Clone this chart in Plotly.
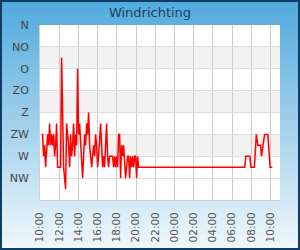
import plotly.graph_objects as go
import pandas as pd

# ---- data ----
title_text = "Windrichting"
dir_labels = ["N", "NO", "O", "ZO", "Z", "ZW", "W", "NW"]
dir_degrees = [0, 45, 90, 135, 180, 225, 270, 315]

noisy_start = "2024-01-01 10:10"
noisy_values = [
    225, 225, 270, 247.5, 292.5, 247.5, 225, 247.5, 202.5, 247.5,
    225, 247.5, 225, 270, 247.5, 202.5, 292.5, 292.5, 292.5, 292.5, 67.5,
    247.5, 292.5, 315, 337.5, 202.5, 225, 247.5, 292.5, 225, 270,
    247.5, 202.5, 270, 225, 247.5, 90, 225, 202.5, 247.5, 292.5,
    315, 270, 225, 247.5, 202.5, 225, 180, 247.5, 270, 292.5,
    270, 247.5, 270, 225, 247.5, 292.5, 270, 225, 202.5, 247.5,
    292.5, 270, 292.5, 247.5, 202.5, 270, 292.5, 270, 270, 270,
    270, 292.5, 270, 292.5, 270, 292.5, 225, 225, 315, 247.5,
    270, 247.5, 292.5, 315, 292.5, 270, 270, 315, 270, 292.5,
    270, 292.5, 270, 270, 315, 270, 292.5, 292.5,
]
tail_times = [
    "2024-01-02 07:20", "2024-01-02 07:26", "2024-01-02 07:52", "2024-01-02 07:58",
    "2024-01-02 08:20", "2024-01-02 08:32", "2024-01-02 08:42", "2024-01-02 08:58",
    "2024-01-02 09:05", "2024-01-02 09:14", "2024-01-02 09:24", "2024-01-02 09:44",
    "2024-01-02 09:50", "2024-01-02 09:58", "2024-01-02 10:12",
]
tail_values = [292.5, 270, 270, 292.5, 292.5, 225, 247.5, 247.5, 270, 247.5,
               225, 225, 247.5, 292.5, 292.5]
shaded_bands = [(45, 90), (135, 180), (225, 270)]

# ---- build series ----
noisy_times = pd.date_range(start=noisy_start, periods=len(noisy_values), freq="375s")
times = list(noisy_times) + list(pd.to_datetime(tail_times))
values = list(noisy_values) + list(tail_values)

W, H = 300, 250
L, R, T, B = 40, 20, 25, 50
pw, ph = W - L - R, H - T - B

def px_to_paper_x(px):
    return (px - L) / pw

def py_to_paper_y(py):
    return (H - B - py) / ph

shapes = []
# gradient background strips
n = 50
c0 = (82, 170, 220)
c1 = (240, 247, 252)
for i in range(n):
    f = i / (n - 1)
    c = tuple(int(round(c0[k] + (c1[k] - c0[k]) * f)) for k in range(3))
    y_top = i * H / n
    y_bot = (i + 1) * H / n + 0.6
    shapes.append(dict(type="rect", xref="paper", yref="paper", layer="below",
                       x0=px_to_paper_x(0), x1=px_to_paper_x(W),
                       y0=py_to_paper_y(y_bot), y1=py_to_paper_y(y_top),
                       fillcolor="rgb(%d,%d,%d)" % c, line=dict(width=0)))
# white plot area
shapes.append(dict(type="rect", xref="paper", yref="paper", layer="below",
                   x0=0, x1=1, y0=0, y1=1, fillcolor="white", line=dict(width=0)))
# alternate bands
for a, b in shaded_bands:
    shapes.append(dict(type="rect", xref="paper", yref="y", layer="below",
                       x0=0, x1=1, y0=a, y1=b, fillcolor="#f2f2f2", line=dict(width=0)))
# outer border
shapes.append(dict(type="rect", xref="paper", yref="paper", layer="above",
                   x0=px_to_paper_x(1), x1=px_to_paper_x(W - 1),
                   y0=py_to_paper_y(H - 1), y1=py_to_paper_y(1),
                   line=dict(color="#0e3d68", width=2), fillcolor="rgba(0,0,0,0)"))

fig = go.Figure()
fig.add_trace(go.Scatter(x=times, y=values, mode="lines",
                         line=dict(color="#ff0000", width=1.5), hoverinfo="skip"))

fig.update_layout(
    width=W, height=H,
    margin=dict(l=L, r=R, t=T, b=B, autoexpand=False),
    paper_bgcolor="#9fd0ec",
    plot_bgcolor="white",
    showlegend=False,
    shapes=shapes,
    font=dict(family="DejaVu Sans", size=11, color="#555555"),
    title=dict(text=title_text, x=0.5, xanchor="center", y=1 - 12 / H, yanchor="middle",
               yref="container", font=dict(family="DejaVu Sans", size=13, color="#1d3f63")),
    xaxis=dict(
        type="date",
        range=["2024-01-01 10:00", "2024-01-02 11:00"],
        dtick=2 * 3600 * 1000, tick0="2024-01-01 10:00",
        tickformat="%H:%M", tickangle=-90,
        showgrid=True, gridcolor="#cccccc", gridwidth=1,
        showline=True, linecolor="#d0d0d0", linewidth=1,
        ticks="", ticklabelstandoff=7, automargin=False,
        tickfont=dict(size=10.5, color="#555555"),
        zeroline=False,
    ),
    yaxis=dict(
        range=[360, 0],
        tickvals=dir_degrees, ticktext=dir_labels,
        showgrid=True, gridcolor="#dedede", gridwidth=1,
        showline=True, linecolor="#d0d0d0", linewidth=1,
        ticks="", ticklabelstandoff=8, automargin=False,
        tickfont=dict(size=11, color="#444444"),
        zeroline=False,
    ),
)

fig.write_html("out.html")
